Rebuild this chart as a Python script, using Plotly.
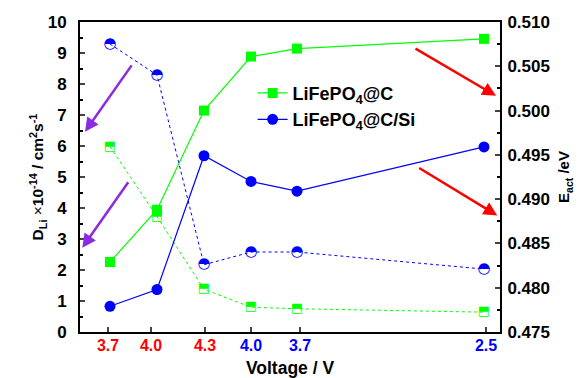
import plotly.graph_objects as go

# x positions of the points (arbitrary linear axis) and tick positions
x_pts = [3.0, 7.7, 12.4, 17.1, 21.7, 40.4]
tick_pos = [2.8, 7.1, 12.5, 17.1, 22.0, 40.6]
tick_labels = ["3.7", "4.0", "4.3", "4.0", "3.7", "2.5"]
tick_colors = ["#ff0000", "#ff0000", "#ff0000", "#0000ff", "#0000ff", "#0000ff"]

# activation energy (right axis), filled markers
eact_c = [0.4829, 0.4888, 0.5000, 0.5061, 0.5070, 0.5081]
eact_csi = [0.4779, 0.4798, 0.4949, 0.4920, 0.4909, 0.4959]
# diffusion coefficient (left axis), half-filled markers
d_c = [5.98, 3.72, 1.38, 0.80, 0.75, 0.64]
d_csi = [9.29, 8.29, 2.17, 2.58, 2.58, 2.03]

GREEN = "#00ff00"
BLUE = "#0000ff"
FONT = "Liberation Sans, Arial, sans-serif"

fig = go.Figure()

# half-filled series (left axis)
fig.add_trace(go.Scatter(
    x=x_pts, y=d_c, mode="lines+text", text=["⬒"] * len(x_pts),
    textposition="middle center",
    textfont=dict(family="DejaVu Sans", size=13, color=GREEN),
    line=dict(color=GREEN, width=1, dash="dot"), showlegend=False))
fig.add_trace(go.Scatter(
    x=x_pts, y=d_csi, mode="lines+text", text=["◓"] * len(x_pts),
    textposition="middle center",
    textfont=dict(family="DejaVu Sans", size=15, color=BLUE),
    line=dict(color=BLUE, width=1, dash="dot"), showlegend=False))

# filled series (right axis)
fig.add_trace(go.Scatter(
    x=x_pts, y=eact_c, yaxis="y2", mode="lines+markers",
    name="<b>LiFePO<sub>4</sub>@C</b>",
    line=dict(color=GREEN, width=1.2),
    marker=dict(symbol="square", size=10, color=GREEN)))
fig.add_trace(go.Scatter(
    x=x_pts, y=eact_csi, yaxis="y2", mode="lines+markers",
    name="<b>LiFePO<sub>4</sub>@C/Si</b>",
    line=dict(color=BLUE, width=1.2),
    marker=dict(symbol="circle", size=11, color=BLUE)))

# arrows (tail -> tip), in data coordinates of x / left y
arrows = [
    ((5.27, 8.65), (0.5, 6.46), "#8a2be2"),
    ((4.93, 4.88), (0.23, 2.72), "#8a2be2"),
    ((33.4, 9.17), (41.6, 7.62), "#ff0000"),
    ((33.77, 5.32), (41.73, 3.76), "#ff0000"),
]
for (tx, ty), (hx, hy), col in arrows:
    fig.add_annotation(x=hx, y=hy, ax=tx, ay=ty, xref="x", yref="y",
                       axref="x", ayref="y", showarrow=True, text="",
                       arrowhead=2, arrowsize=1.1, arrowwidth=2.5,
                       arrowcolor=col)

ticktext = [f'<span style="color:{c}"><b>{t}</b></span>'
            for t, c in zip(tick_labels, tick_colors)]

fig.update_layout(
    width=581, height=378,
    margin=dict(l=80, r=81, t=22, b=46),
    paper_bgcolor="white", plot_bgcolor="white",
    font=dict(family=FONT, size=14, color="black"),
    showlegend=True,
    legend=dict(x=0.411, y=0.83, xanchor="left", yanchor="top",
                bgcolor="rgba(0,0,0,0)", font=dict(size=18, family=FONT),
                itemwidth=30, tracegroupgap=0),
    xaxis=dict(range=[0, 42], tickvals=tick_pos, ticktext=ticktext,
               ticks="inside", ticklen=5, tickwidth=1.5,
               showline=True, linecolor="black", linewidth=2,
               mirror=True, showgrid=False, zeroline=False,
               ticklabelstandoff=-2, automargin=False,
               title=dict(text="<b>Voltage / V</b>", font=dict(size=17.5),
                          standoff=9),
               tickfont=dict(size=16)),
    yaxis=dict(range=[0, 10], dtick=1, ticks="inside", ticklen=5,
               tickwidth=1.5, showline=True, linecolor="black",
               linewidth=2, showgrid=False, zeroline=False,
               automargin=False,
               tickfont=dict(size=17), tickprefix="<b>", ticksuffix="</b>",
               ticklabelstandoff=8,
               minor=dict(dtick=0.5, ticks="inside", ticklen=3,
                          tickwidth=1.5, tickcolor="black"),
               title=dict(text="<b>D<sub>Li</sub> </b>×<b>10<sup>-14</sup> / cm<sup>2</sup>s<sup>-1</sup></b>",
                          font=dict(size=15.5), standoff=0)),
    yaxis2=dict(range=[0.475, 0.510], dtick=0.005, tickformat=".3f",
                overlaying="y", side="right", anchor="x",
                ticks="inside", ticklen=5, tickwidth=1.5,
                showline=True, linecolor="black", linewidth=2,
                showgrid=False, zeroline=False, automargin=False,
                tickfont=dict(size=17), tickprefix="<b>", ticksuffix="</b>",
                ticklabelstandoff=2,
                minor=dict(dtick=0.0025, ticks="inside", ticklen=3,
                           tickwidth=1.5, tickcolor="black"),
                title=dict(text="<b>E<sub>act</sub> /eV</b>",
                           font=dict(size=15), standoff=10)),
)

fig.write_html("out.html")
